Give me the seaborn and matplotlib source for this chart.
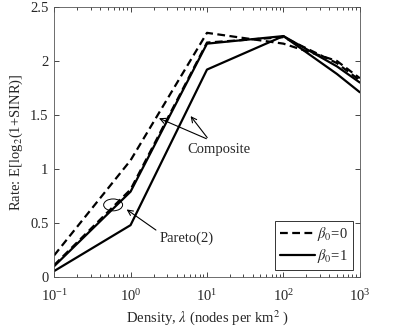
import matplotlib
matplotlib.use("Agg")
import matplotlib.pyplot as plt
from matplotlib.patches import Ellipse
import seaborn as sns
import pandas as pd

# density values (nodes per km^2)
lam = [0.1, 1, 10, 100, 500, 1000]

# rate curves
comp_b0 = [0.20, 1.08, 2.26, 2.16, 2.00, 1.84]
comp_b1 = [0.055, 0.48, 1.92, 2.23, 1.88, 1.71]
par_b0 = [0.11, 0.81, 2.17, 2.22, 1.98, 1.82]
par_b1 = [0.10, 0.79, 2.16, 2.23, 1.95, 1.80]

beta_labels = [r"$\beta_0$=0", r"$\beta_0$=1"]

rows = []
for model, beta, vals in [("Composite", beta_labels[0], comp_b0),
                          ("Composite", beta_labels[1], comp_b1),
                          ("Pareto", beta_labels[0], par_b0),
                          ("Pareto", beta_labels[1], par_b1)]:
    for x, y in zip(lam, vals):
        rows.append({"lam": x, "rate": y, "beta": beta, "model": model})
df = pd.DataFrame(rows)

sns.set_style("ticks")
plt.rcParams["font.family"] = ["Liberation Serif", "DejaVu Serif"]
plt.rcParams["mathtext.fontset"] = "stix"
plt.rcParams["font.size"] = 9.5

fig = plt.figure(figsize=(3.95, 3.29), dpi=100)
ax = fig.add_axes([0.137, 0.158, 0.774, 0.821])

sns.lineplot(data=df, x="lam", y="rate", style="beta", units="model",
             estimator=None, color="black", linewidth=1.6,
             dashes={beta_labels[0]: (3.5, 2), beta_labels[1]: ""},
             style_order=beta_labels, ax=ax)

ax.set_xscale("log")
ax.set_xlim(0.1, 1000)
ax.set_ylim(0, 2.5)
ax.set_yticks([0, 0.5, 1, 1.5, 2, 2.5])
ax.set_yticklabels(["0", "0.5", "1", "1.5", "2", "2.5"])
ax.tick_params(which="both", direction="in", top=True, right=True,
               labelsize=10.5, width=0.6)
ax.tick_params(which="major", length=3.5)
ax.tick_params(which="minor", length=2)
ax.tick_params(axis="x", pad=8)
ax.tick_params(axis="y", pad=4)
for sp in ax.spines.values():
    sp.set_linewidth(0.6)
    sp.set_color("#555555")

ax.set_xlabel(r"Density, $\lambda$ (nodes per km$^2$ )", fontsize=10.5, labelpad=3)
ax.set_ylabel(r"Rate: E[log$_2$(1+SINR)]", fontsize=10.5, labelpad=4)

# annotations
arrow = dict(arrowstyle="->", color="black", lw=0.8)
ax.annotate("", xy=(2.18, 1.48), xytext=(10.6, 1.27), arrowprops=arrow)
ax.annotate("", xy=(5.8, 1.51), xytext=(10.6, 1.27), arrowprops=arrow)
ax.text(14.3, 1.18, "Composite", ha="center", va="center", fontsize=10.5)
ax.annotate("", xy=(0.83, 0.64), xytext=(2.3, 0.42), arrowprops=arrow)
ax.text(5.5, 0.36, "Pareto(2)", ha="center", va="center", fontsize=10.5)
ax.add_patch(Ellipse((0.193, 0.267), 0.062, 0.044, transform=ax.transAxes,
                     fill=False, edgecolor="black", lw=0.7))

leg = ax.legend(loc="lower right", fontsize=10.5, frameon=True, fancybox=False,
                edgecolor="black", handlelength=2.4, handletextpad=0.2,
                borderpad=0.3, labelspacing=0.3, borderaxespad=0.5)
leg.get_frame().set_linewidth(0.7)

fig.savefig("out.png", dpi=100)
